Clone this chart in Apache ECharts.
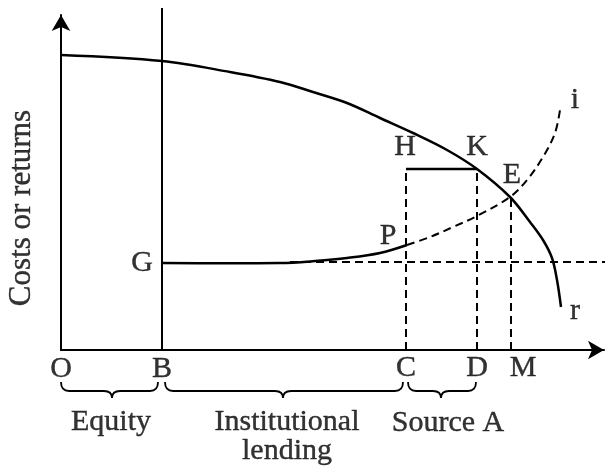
<!DOCTYPE html>
<html>
<head>
<meta charset="utf-8">
<script src="https://cdn.jsdelivr.net/npm/echarts@6/dist/echarts.min.js"></script>
<style>
  html, body { margin: 0; padding: 0; background: #fff; }
  #main { width: 613px; height: 475px; }
</style>
</head>
<body>
<div id="main"></div>
<script>
// returns curve r (solid), cost curve G..P (solid) and P..i (dashed)
const returnCurve = [[0, 295], [101, 289], [169, 278], [219, 268], [252, 258], [286, 247], [319, 232], [352, 217], [386, 200], [416, 181], [449, 153], [469, 128], [482, 110], [491, 92], [496, 70], [500, 43]]
const costSolid = [[101, 87], [219, 87], [254, 89], [286, 92], [319, 97], [346, 105]]
const costDashed = [[346, 105], [369, 113], [392, 123], [416, 134], [449, 153], [466, 170], [482, 193], [494, 217], [499, 240]]
const gLevel = [[229, 88], [552, 88]]
const equityLine = [[101, 0], [101, 342]]
const hkLine = [[345, 181], [416, 181]]
const dropLines = [
  [[345, 0], [345, 181]],
  [[416, 0], [416, 181]],
  [[450, 0], [450, 153]]
]
// braces under the x axis: start, end, tip
const braceStart = [0, 104, 347]
const braceEnd = [97, 342, 415]
const braceTip = [51, 222, 380]
const braceTop = -32
const braceMid = -41
const braceLow = -48
// point / region labels
const labelNames = ['O', 'B', 'C', 'D', 'M', 'G', 'H', 'K', 'E', 'P', 'i', 'r', 'Equity', 'Institutional', 'lending', 'Source A']
const labelX = [0, 101, 345, 416, 462, 81, 344, 416, 451, 327, 514, 514, 50, 226, 226, 387]
const labelY = [-19, -19, -18, -18, -18, 87, 203, 203, 175, 114, 250, 39, -72, -72, -101, -73]
const yTitle = 'Costs or returns'

const font = 'Liberation Serif'
const solid = { color: '#000', width: 2.5 }
const dashed = { color: '#000', width: 2, type: [8, 5] }

function lineSeries (data, style) {
  return {
    type: 'line',
    data: data,
    symbol: 'none',
    clip: false,
    silent: true,
    lineStyle: style
  }
}

// smooth curve through the points, drawn as one polyline
function curveSeries (data, style) {
  return {
    type: 'custom',
    clip: false,
    silent: true,
    data: data,
    renderItem: function (params, api) {
      if (params.dataIndex !== 0) return null
      return {
        type: 'polyline',
        shape: { points: data.map(p => api.coord(p)), smooth: 0.35 },
        style: {
          stroke: style.color,
          lineWidth: style.width,
          lineDash: style.type || null,
          fill: null
        }
      }
    }
  }
}

const labelStyle = {
  show: true,
  position: 'inside',
  formatter: p => p.data[2],
  color: '#000',
  fontFamily: font,
  fontSize: 30,
  textBorderColor: '#000',
  textBorderWidth: 0.4
}

const chart = echarts.init(document.getElementById('main'))
const series = [
  curveSeries(returnCurve, solid),
  curveSeries(costSolid, solid),
  curveSeries(costDashed, dashed),
  lineSeries(gLevel, dashed),
  lineSeries(equityLine, { color: '#000', width: 2 }),
  lineSeries(hkLine, solid)
]
dropLines.forEach(d => series.push(lineSeries(d, dashed)))

series.push({
  type: 'custom',
  clip: false,
  silent: true,
  data: braceStart.map((s, i) => [s, braceEnd[i], braceTip[i]]),
  renderItem: function (params, api) {
    const a = api.coord([api.value(0), braceTop])
    const b = api.coord([api.value(1), braceTop])
    const t = api.coord([api.value(2), braceLow])
    const m = api.coord([0, braceMid])[1]
    const r = 8
    const d = 'M' + a[0] + ' ' + a[1] +
      ' Q' + a[0] + ' ' + m + ' ' + (a[0] + r) + ' ' + m +
      ' L' + (t[0] - r) + ' ' + m +
      ' Q' + t[0] + ' ' + m + ' ' + t[0] + ' ' + t[1] +
      ' Q' + t[0] + ' ' + m + ' ' + (t[0] + r) + ' ' + m +
      ' L' + (b[0] - r) + ' ' + m +
      ' Q' + b[0] + ' ' + m + ' ' + b[0] + ' ' + b[1]
    return {
      type: 'path',
      shape: { pathData: d },
      style: { stroke: '#000', lineWidth: 1.8, fill: null }
    }
  }
})

series.push({
  type: 'scatter',
  clip: false,
  silent: true,
  symbolSize: 1,
  itemStyle: { color: 'rgba(0,0,0,0)' },
  data: labelNames.map((n, i) => [labelX[i], labelY[i], n]),
  label: labelStyle
})

series.push({
  type: 'scatter',
  clip: false,
  silent: true,
  symbolSize: 1,
  itemStyle: { color: 'rgba(0,0,0,0)' },
  data: [[-39, 142, yTitle]],
  label: Object.assign({}, labelStyle, { rotate: 90, fontSize: 31 })
})

chart.setOption({
  animation: false,
  grid: { left: 61, right: 9, top: 15, bottom: 125 },
  xAxis: {
    type: 'value',
    min: 0,
    max: 543,
    axisLine: {
      onZero: false,
      symbol: ['none', 'arrow'],
      symbolSize: [14, 16],
      lineStyle: { color: '#000', width: 2 }
    },
    axisTick: { show: false },
    axisLabel: { show: false },
    splitLine: { show: false }
  },
  yAxis: {
    type: 'value',
    min: 0,
    max: 335,
    axisLine: {
      show: true,
      onZero: false,
      symbol: ['none', 'arrow'],
      symbolSize: [14, 16],
      lineStyle: { color: '#000', width: 2 }
    },
    axisTick: { show: false },
    axisLabel: { show: false },
    splitLine: { show: false }
  },
  series: series
})
</script>
</body>
</html>
